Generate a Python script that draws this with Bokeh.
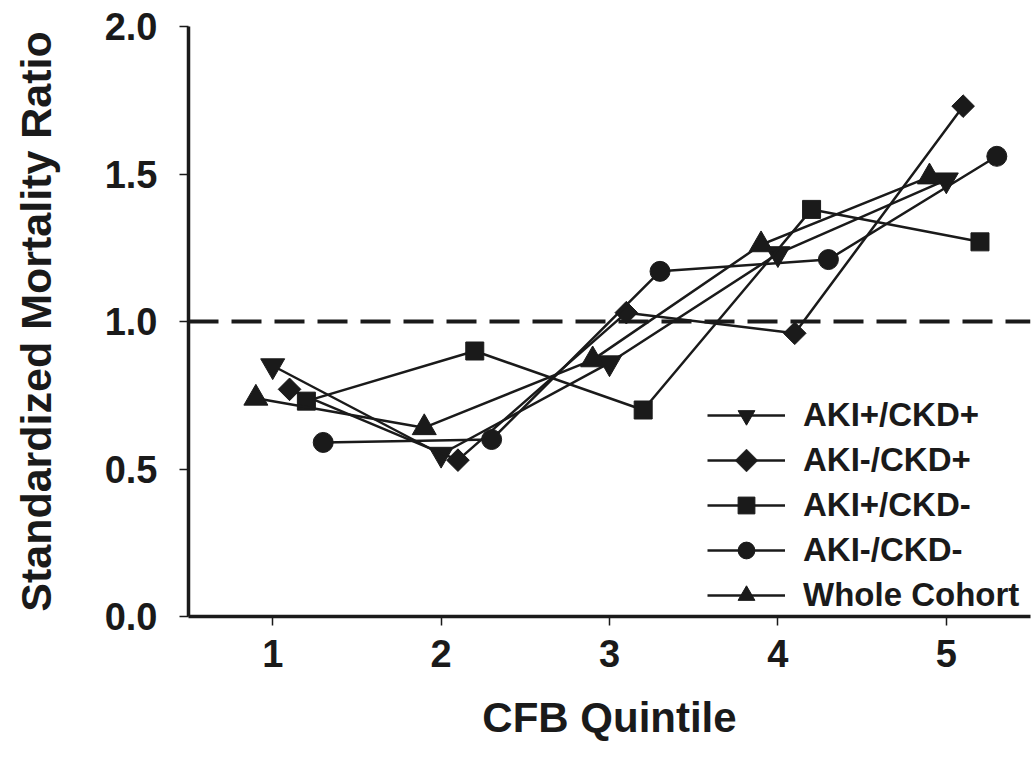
import numpy as np
from bokeh.plotting import figure
from bokeh.models import (ColumnDataSource, FixedTicker, Span, Legend, LegendItem,
                          PolyAnnotation)
from bokeh.transform import dodge
from bokeh.embed import file_html
from bokeh.resources import INLINE

# ---- data ----
quintiles = [1, 2, 3, 4, 5]
aki_pos_ckd_pos = [0.85, 0.55, 0.86, 1.23, 1.48]
aki_neg_ckd_pos = [0.77, 0.53, 1.03, 0.96, 1.73]
aki_pos_ckd_neg = [0.73, 0.90, 0.70, 1.38, 1.27]
aki_neg_ckd_neg = [0.59, 0.60, 1.17, 1.21, 1.56]
whole_cohort = [0.74, 0.64, 0.87, 1.26, 1.49]
series_names = ["AKI+/CKD+", "AKI-/CKD+", "AKI+/CKD-", "AKI-/CKD-", "Whole Cohort"]
y_ticks = [0.0, 0.5, 1.0, 1.5, 2.0]
y_tick_labels = ["0.0", "0.5", "1.0", "1.5", "2.0"]

FONT = "Liberation Sans"
INK = "#1a1a1a"

src = ColumnDataSource(dict(
    q=quintiles,
    s1=aki_pos_ckd_pos,
    s2=aki_neg_ckd_pos,
    s3=aki_pos_ckd_neg,
    s4=aki_neg_ckd_neg,
    s5=whole_cohort,
))

p = figure(width=1034, height=764, output_backend="svg", toolbar_location=None,
           x_range=(0.5, 5.5), y_range=(0, 2),
           min_border_left=188, min_border_right=4, min_border_top=26,
           min_border_bottom=148)
p.outline_line_color = None
p.grid.visible = False
p.background_fill_color = "white"
p.border_fill_color = "white"

for ax in (p.xaxis[0], p.yaxis[0]):
    ax.axis_line_width = 3.5
    ax.axis_line_color = INK
    ax.major_tick_line_color = INK
    ax.major_tick_line_width = 1.5
    ax.major_tick_in = 0
    ax.major_tick_out = 9
    ax.minor_tick_line_color = None
    ax.major_label_text_font = FONT
    ax.major_label_text_font_style = "bold"
    ax.major_label_text_color = INK
    ax.major_label_text_font_size = "38px"
    ax.axis_label_text_font = FONT
    ax.axis_label_text_font_style = "bold"
    ax.axis_label_text_color = INK
    ax.axis_label_text_font_size = "42px"

p.xaxis.ticker = FixedTicker(ticks=quintiles)
p.yaxis.ticker = FixedTicker(ticks=y_ticks)
p.yaxis.major_label_overrides = {t: l for t, l in zip(y_ticks, y_tick_labels)}
p.xaxis.axis_label = "CFB Quintile"
p.yaxis.axis_label = "Standardized Mortality Ratio"
p.yaxis.axis_label_text_font_size = "43px"
p.yaxis.major_label_standoff = 22
p.yaxis.axis_label_standoff = 42
p.xaxis.major_label_standoff = 14
p.xaxis.axis_label_standoff = 24

# reference line at SMR = 1
p.add_layout(Span(location=1.0, dimension="width", line_color=INK,
                  line_width=4, line_dash="30 13"))

specs = [
    ("s1", 0.0, "inverted_triangle", 24, 0.0),
    ("s2", 0.1, "square", 16, np.pi / 4),
    ("s3", 0.2, "square", 18, 0.0),
    ("s4", 0.3, "circle", 20, 0.0),
    ("s5", -0.1, "triangle", 24, 0.0),
]

items = []
for (col, off, marker, size, ang), name in zip(specs, series_names):
    xs = dodge("q", off)
    ln = p.line(x=xs, y=col, source=src, line_color=INK, line_width=2.5)
    sc = p.scatter(x=xs, y=col, source=src, marker=marker, size=size,
                   angle=ang, fill_color=INK, line_color=INK)
    # legend cannot rotate markers: the diamond entry gets its symbol below
    items.append(LegendItem(label=name, renderers=[ln] if ang else [ln, sc]))

GW, GH, SP = 78, 42, 3
LX, LY = 519, 0
legend = Legend(items=items, location=(LX, LY), orientation="vertical",
                glyph_width=GW, glyph_height=GH, label_height=GH, spacing=SP,
                label_standoff=18, padding=0, margin=0,
                border_line_color=None, background_fill_alpha=0,
                label_text_font=FONT, label_text_font_style="bold",
                label_text_font_size="33px", label_text_color=INK)
p.add_layout(legend)

# diamond symbol for the second legend row (screen units, frame-relative)
cx = LX + GW / 2
cy = LY + GH / 2 + 3 * (GH + SP)
r = 11.5
p.add_layout(PolyAnnotation(xs=[cx, cx + r, cx, cx - r], ys=[cy + r, cy, cy - r, cy],
                            xs_units="screen", ys_units="screen",
                            fill_color=INK, fill_alpha=1.0, line_color=INK,
                            line_width=1))

open("out.html", "w").write(file_html(p, INLINE))
